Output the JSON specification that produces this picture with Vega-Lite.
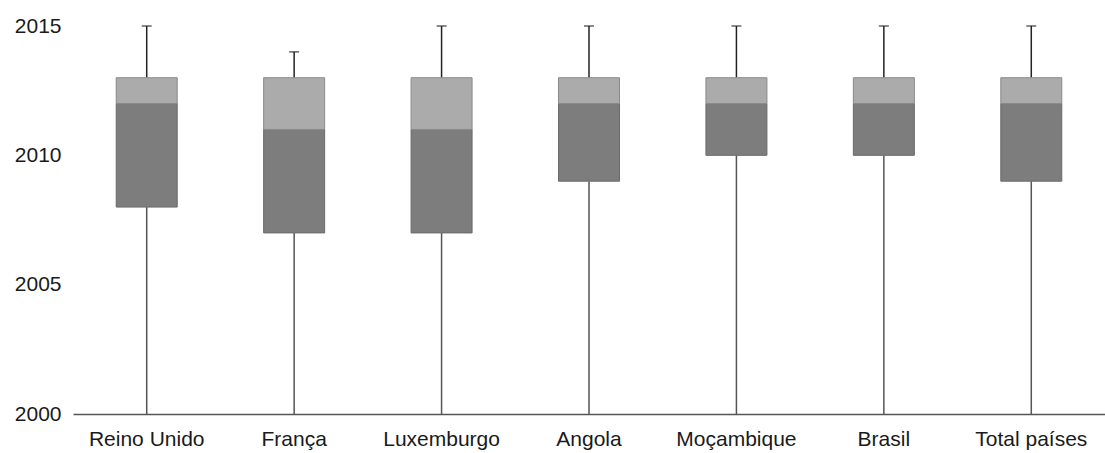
{
  "$schema": "https://vega.github.io/schema/vega-lite/v6.json",
  "width": 1032,
  "height": 388,
  "autosize": {"type": "none"},
  "padding": {"left": 73, "top": 26, "right": 0, "bottom": 39},
  "background": "white",
  "config": {
    "view": {"stroke": null},
    "font": "Liberation Sans",
    "axis": {"labelFont": "Liberation Sans", "labelColor": "#1a1a1a", "labelFontSize": 21, "grid": false, "ticks": false, "title": null}
  },
  "data": {
    "values": [
      {"pais": "Reino Unido", "min": 2000, "q1": 2008, "mediana": 2012, "q3": 2013, "max": 2015},
      {"pais": "França", "min": 2000, "q1": 2007, "mediana": 2011, "q3": 2013, "max": 2014},
      {"pais": "Luxemburgo", "min": 2000, "q1": 2007, "mediana": 2011, "q3": 2013, "max": 2015},
      {"pais": "Angola", "min": 2000, "q1": 2009, "mediana": 2012, "q3": 2013, "max": 2015},
      {"pais": "Moçambique", "min": 2000, "q1": 2010, "mediana": 2012, "q3": 2013, "max": 2015},
      {"pais": "Brasil", "min": 2000, "q1": 2010, "mediana": 2012, "q3": 2013, "max": 2015},
      {"pais": "Total países", "min": 2000, "q1": 2009, "mediana": 2012, "q3": 2013, "max": 2015}
    ]
  },
  "encoding": {
    "x": {
      "field": "pais", "type": "nominal", "sort": null,
      "scale": {"paddingInner": 0, "paddingOuter": 0},
      "axis": {"labelAngle": 0, "labelPadding": 14, "domain": true, "domainColor": "#555555", "domainWidth": 1.5}
    }
  },
  "layer": [
    {
      "mark": {"type": "rule", "color": "#555555", "strokeWidth": 1.5},
      "encoding": {
        "y": {"field": "min", "type": "quantitative", "scale": {"domain": [2000, 2015], "zero": false, "nice": false}, "axis": {"values": [2000, 2005, 2010, 2015], "format": "d", "domain": false, "labelPadding": 12}},
        "y2": {"field": "q1"}
      }
    },
    {
      "mark": {"type": "rule", "color": "#222222", "strokeWidth": 1.5},
      "encoding": {
        "y": {"field": "q3", "type": "quantitative"},
        "y2": {"field": "max"}
      }
    },
    {
      "mark": {"type": "tick", "color": "#222222", "thickness": 1.5, "size": 10, "orient": "horizontal"},
      "encoding": {
        "y": {"field": "max", "type": "quantitative"}
      }
    },
    {
      "mark": {"type": "bar", "width": 61, "fill": "#7d7d7d", "stroke": "#6a6a6a", "strokeWidth": 1},
      "encoding": {
        "y": {"field": "q1", "type": "quantitative"},
        "y2": {"field": "mediana"}
      }
    },
    {
      "mark": {"type": "bar", "width": 61, "fill": "#ababab", "stroke": "#8a8a8a", "strokeWidth": 1},
      "encoding": {
        "y": {"field": "mediana", "type": "quantitative"},
        "y2": {"field": "q3"}
      }
    }
  ]
}
